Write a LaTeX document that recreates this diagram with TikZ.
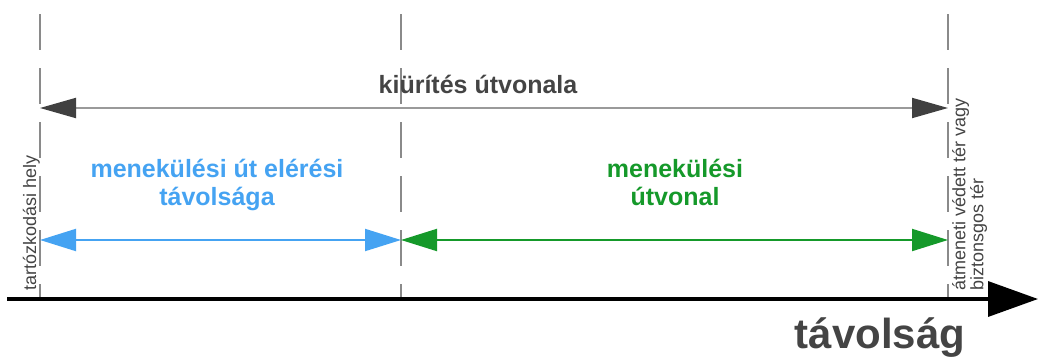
\documentclass[tikz,border=0pt]{standalone}
\usepackage{fontspec}
\setmainfont{Liberation Sans}
\usetikzlibrary{arrows.meta}
\definecolor{lbl}{HTML}{444444}
\definecolor{guide}{HTML}{8A8A8A}
\definecolor{evac}{HTML}{9A9A9A}
\definecolor{head}{HTML}{404040}
\definecolor{bluec}{HTML}{45A3F2}
\definecolor{greenc}{HTML}{15992A}
\tikzset{
  guideline/.style={draw=guide, line width=1.1pt, dash pattern=on 36pt off 18pt},
  dimline/.style={line width=2pt},
  bigtext/.style={font=\fontsize{25}{28}\selectfont\bfseries, align=center, inner sep=0pt},
  sidetext/.style={font=\fontsize{18}{16}\selectfont, text=lbl, rotate=90, inner sep=0pt},
}
\begin{document}
\begin{tikzpicture}[x=1pt,y=-1pt]
\useasboundingbox (0,0) rectangle (1038,359);
% guide coordinates
\coordinate (g1t) at (40,14);  \coordinate (g1b) at (40,300);
\coordinate (g2t) at (401,14); \coordinate (g2b) at (401,300);
\coordinate (g3t) at (948,14); \coordinate (g3b) at (948,300);
\draw[guideline] (g1t) -- (g1b);
\draw[guideline] (g2t) -- (g2b);
\draw[guideline] (g3t) -- (g3b);
% axis
\coordinate (axs) at (7,299);
\coordinate (axe) at (1038,299);
\draw[line width=3.5pt, -{Triangle[length=50pt,width=35pt]}] (axs) -- (axe);
\node[font=\fontsize{42}{42}\selectfont\bfseries, text=lbl, anchor=base, inner sep=0pt] (dist) at (880,348) {távolság};
% evacuation route
\coordinate (eL) at (40,108);
\coordinate (eR) at (948,108);
\draw[dimline, draw=evac, {Triangle[length=36pt,width=20pt,color=head]}-{Triangle[length=36pt,width=20pt,color=head]}] (eL) -- (eR);
\node[bigtext, text=lbl, anchor=base] (evlbl) at (478,93) {kiürítés útvonala};
% blue and green segments
\coordinate (bL) at (40,240);
\coordinate (mid) at (401,240);
\coordinate (gR) at (948,240);
\draw[dimline, draw=bluec, {Triangle[length=36pt,width=22pt]}-{Triangle[length=36pt,width=22pt]}] (bL) -- (mid);
\draw[dimline, draw=greenc, {Triangle[length=36pt,width=22pt]}-{Triangle[length=36pt,width=22pt]}] (mid) -- (gR);
\node[bigtext, text=bluec, anchor=base] (blbl) at (217,205) {menekülési út elérési\\távolsága};
\node[bigtext, text=greenc, anchor=base] (glbl) at (675,205) {menekülési\\útvonal};
% side labels
\node[sidetext, anchor=base west] (stay) at (36,291) {tartózkodási hely};
\node[sidetext, anchor=north west, align=left] (safe) at (952,291) {átmeneti védett tér vagy\\biztonsgos tér};
\end{tikzpicture}
\end{document}
